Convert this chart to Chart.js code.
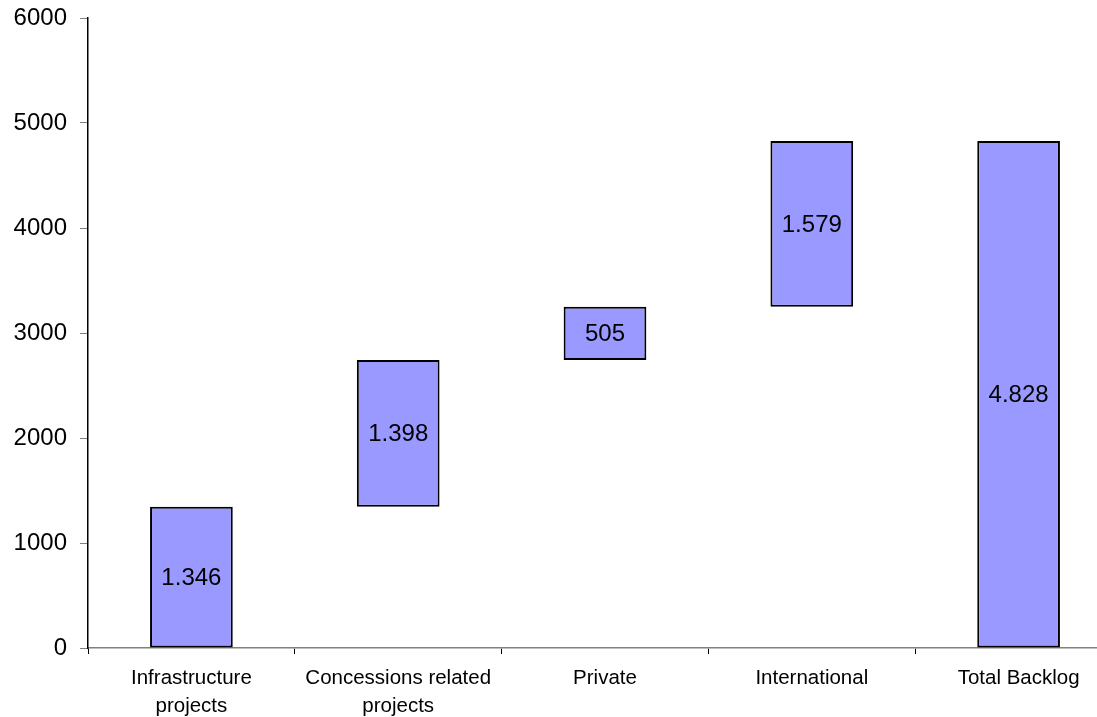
<!DOCTYPE html>
<html>
<head>
<meta charset="utf-8">
<title>Backlog</title>
<script src="https://cdn.jsdelivr.net/npm/chart.js@4/dist/chart.umd.min.js"></script>
<style>
  html, body { margin: 0; padding: 0; background: #fff; overflow: hidden; }
  #wrap { width: 1130px; height: 717px; position: relative; }
</style>
</head>
<body>
<div id="wrap"><canvas id="chart"></canvas></div>
<script>
const categories = [['Infrastructure', 'projects'], ['Concessions related', 'projects'], 'Private', 'International', 'Total Backlog'];
const barStart = [0, 1346, 2744, 3249, 0];
const barEnd = [1346, 2744, 3249, 4828, 4828];
const barLabels = ['1.346', '1.398', '505', '1.579', '4.828'];
const yTicks = [0, 1000, 2000, 3000, 4000, 5000, 6000];

const FONT = '"Liberation Sans", Arial, sans-serif';

// write each bar's value in the middle of the bar
const barValueLabels = {
    id: 'barValueLabels',
    afterDatasetsDraw(chart) {
        const ctx = chart.ctx;
        const meta = chart.getDatasetMeta(0);
        ctx.save();
        ctx.font = '24px ' + FONT;
        ctx.fillStyle = '#000';
        ctx.textAlign = 'center';
        ctx.textBaseline = 'middle';
        meta.data.forEach((bar, i) => {
            const c = bar.getCenterPoint();
            ctx.fillText(barLabels[i], c.x, c.y + 1);
        });
        ctx.restore();
    }
};

new Chart(document.getElementById('chart'), {
    type: 'bar',
    data: {
        labels: categories,
        datasets: [{
            data: barStart.map((s, i) => [s, barEnd[i]]),
            backgroundColor: '#9999ff',
            borderColor: '#000',
            borderWidth: 2,
            borderSkipped: false,
            barPercentage: 0.4,
            categoryPercentage: 1
        }]
    },
    options: {
        responsive: true,
        maintainAspectRatio: false,
        animation: false,
        layout: { padding: { top: 18, right: 8, left: 0, bottom: 0 } },
        plugins: {
            legend: { display: false },
            tooltip: { enabled: false }
        },
        scales: {
            x: {
                grid: {
                    offset: true,
                    drawOnChartArea: false,
                    color: '#000',
                    tickLength: 6
                },
                border: { color: '#808080', width: 1.5 },
                ticks: {
                    color: '#000',
                    font: { family: FONT, size: 20.5, lineHeight: 1.35 },
                    padding: 11,
                    maxRotation: 0,
                    autoSkip: false
                },
                afterFit(scale) { scale.height = 69; }
            },
            y: {
                min: 0,
                max: 6000,
                afterBuildTicks(scale) { scale.ticks = yTicks.map(v => ({ value: v })); },
                grid: {
                    drawOnChartArea: false,
                    color: '#808080',
                    tickLength: 8
                },
                border: { color: '#000', width: 1.5 },
                ticks: {
                    color: '#000',
                    font: { family: FONT, size: 24 },
                    padding: 13,
                    callback: v => String(v)
                },
                afterFit(scale) {
                    scale.width = 88;
                    // let the top label hang into the layout padding
                    scale.paddingTop = 0;
                    scale.paddingBottom = 0;
                }
            }
        }
    },
    plugins: [barValueLabels]
});
</script>
</body>
</html>
